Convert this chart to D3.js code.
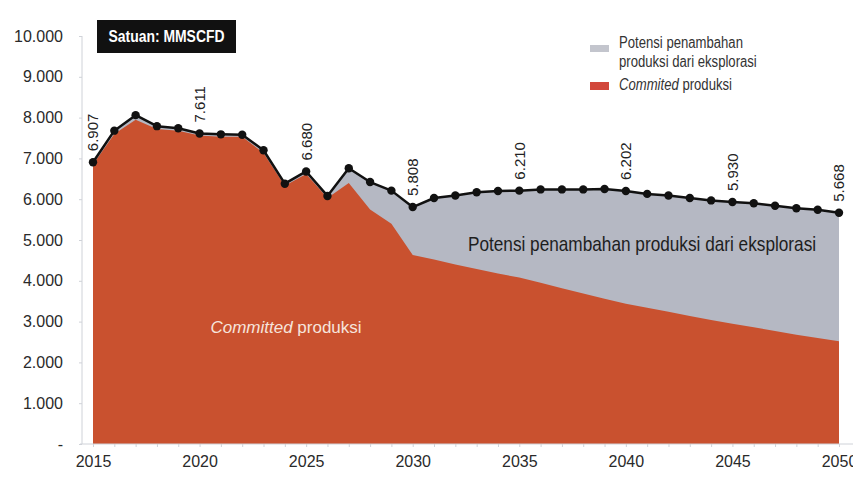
<!DOCTYPE html>
<html><head><meta charset="utf-8">
<script src="https://cdn.jsdelivr.net/npm/d3@7"></script>
<style>
html,body{margin:0;padding:0;background:#fff;}
svg{display:block;}
</style>
</head><body>
<svg id="c" width="853" height="479"></svg>
<script>
const years = d3.range(2015, 2051);
const totalValues = [6907,7680,8060,7790,7740,7611,7590,7580,7200,6380,
  6680,6080,6760,6420,6210,5808,6030,6090,6170,6200,
  6210,6240,6240,6240,6250,6202,6130,6090,6030,5970,
  5930,5900,5840,5780,5740,5668];
const committedValues = [6850,7600,7950,7720,7680,7560,7530,7530,7130,6330,
  6620,6030,6400,5750,5400,4630,4520,4400,4290,4180,
  4080,3950,3820,3690,3560,3440,3340,3240,3140,3040,
  2950,2860,2770,2680,2600,2520];
const labelYears = [2015,2020,2025,2030,2035,2040,2045,2050];
const labelTexts = ["6.907","7.611","6.680","5.808","6.210","6.202","5.930","5.668"];
const yTicks = [0,1000,2000,3000,4000,5000,6000,7000,8000,9000,10000];
const yTickLabels = ["-","1.000","2.000","3.000","4.000","5.000","6.000","7.000","8.000","9.000","10.000"];
const xTicks = [2015,2020,2025,2030,2035,2040,2045,2050];
const unitText = "Satuan: MMSCFD";
const legendGrey = ["Potensi penambahan","produksi dari eksplorasi"];
const legendRedItalic = "Commited";
const legendRedRest = " produksi";
const areaGreyLabel = "Potensi penambahan produksi dari eksplorasi";
const areaRedItalic = "Committed";
const areaRedRest = " produksi";

const data = years.map((yr,i)=>({year:yr,total:totalValues[i],committed:committedValues[i]}));

const svg = d3.select("#c");
const x = d3.scaleLinear().domain([2015,2050]).range([93,839]);
const y = d3.scaleLinear().domain([0,10000]).range([444,36]);

const RED = "#c9512f", GREY = "#b5b8c3";
const FONT = "'Liberation Sans', Arial, sans-serif";
const SX = 0.82; // condensed look

function condText(px, py, size, opts={}) {
  const g = svg.append("g").attr("transform", `translate(${px},${py}) scale(${SX},1)`);
  const t = g.append("text").attr("x",0).attr("y",0)
    .attr("font-family",FONT).attr("font-size",size)
    .attr("fill", opts.fill || "#222")
    .attr("text-anchor", opts.anchor || "start");
  if (opts.weight) t.attr("font-weight", opts.weight);
  return t;
}

// areas
svg.append("path").datum(data)
  .attr("fill", GREY)
  .attr("d", d3.area().x(d=>x(d.year)).y0(y(0)).y1(d=>y(d.total)));
svg.append("path").datum(data)
  .attr("fill", RED)
  .attr("d", d3.area().x(d=>x(d.year)).y0(y(0)).y1(d=>y(d.committed)));

// y axis
const yAxis = svg.append("g").attr("transform","translate(82,0)")
  .call(d3.axisLeft(y).tickValues(yTicks).tickSize(3).tickPadding(16)
    .tickFormat((d,i)=>yTickLabels[i]));
yAxis.select(".domain").attr("stroke","#cfd2d8").attr("d","M0,36V444");
yAxis.selectAll(".tick line").attr("stroke","#cfd2d8");
yAxis.selectAll(".tick text").attr("font-family",FONT).attr("font-size",16)
  .attr("fill","#2a2a2a");

// x axis
const xAxis = svg.append("g").attr("transform","translate(0,444)")
  .call(d3.axisBottom(x).tickValues(years).tickSize(3).tickSizeOuter(0)
    .tickFormat(d=> xTicks.includes(d) ? String(d) : ""));
xAxis.select(".domain").attr("stroke","#cfd2d8").attr("d","M80,0H853");
xAxis.selectAll(".tick line").attr("stroke","#cfd2d8");
xAxis.selectAll(".tick text").attr("font-family",FONT).attr("font-size",16)
  .attr("fill","#2a2a2a").attr("dy","1.05em");

// line + dots
svg.append("path").datum(data)
  .attr("fill","none").attr("stroke","#111").attr("stroke-width",2.5)
  .attr("stroke-linejoin","round")
  .attr("d", d3.line().x(d=>x(d.year)).y(d=>y(d.total)));
svg.selectAll("circle.dot").data(data).join("circle")
  .attr("class","dot").attr("cx",d=>x(d.year)).attr("cy",d=>y(d.total))
  .attr("r",4.2).attr("fill","#111");

// value labels
svg.selectAll("text.val").data(labelYears).join("text")
  .attr("class","val")
  .attr("transform",(d,i)=>{
    const v = totalValues[years.indexOf(d)];
    return `translate(${x(d)},${y(v)-11}) rotate(-90)`;
  })
  .attr("dy","0.36em")
  .attr("font-family",FONT).attr("font-size",15).attr("fill","#222")
  .text((d,i)=>labelTexts[i]);

// unit box
svg.append("rect").attr("x",97).attr("y",20).attr("width",139).attr("height",33).attr("fill","#111");
condText(166.5, 42, 17, {fill:"#fff", anchor:"middle", weight:"bold"}).text(unitText);

// legend
svg.append("rect").attr("x",590).attr("y",45).attr("width",19).attr("height",7).attr("fill","#c3c5cd");
svg.append("rect").attr("x",590).attr("y",82).attr("width",19).attr("height",8).attr("fill","#d2473b");
condText(619, 48, 16, {fill:"#333"}).text(legendGrey[0]);
condText(619, 67, 16, {fill:"#333"}).text(legendGrey[1]);
const lt = condText(619, 90, 16, {fill:"#333"});
lt.append("tspan").attr("font-style","italic").text(legendRedItalic);
lt.append("tspan").text(legendRedRest);

// in-area labels
condText(642, 251, 21, {fill:"#1e1e1e", anchor:"middle"}).text(areaGreyLabel);
const rt = svg.append("text").attr("x",286).attr("y",333).attr("text-anchor","middle")
  .attr("font-family",FONT).attr("font-size",17).attr("fill","#f6e4dc");
rt.append("tspan").attr("font-style","italic").text(areaRedItalic);
rt.append("tspan").text(areaRedRest);
</script>
</body></html>
